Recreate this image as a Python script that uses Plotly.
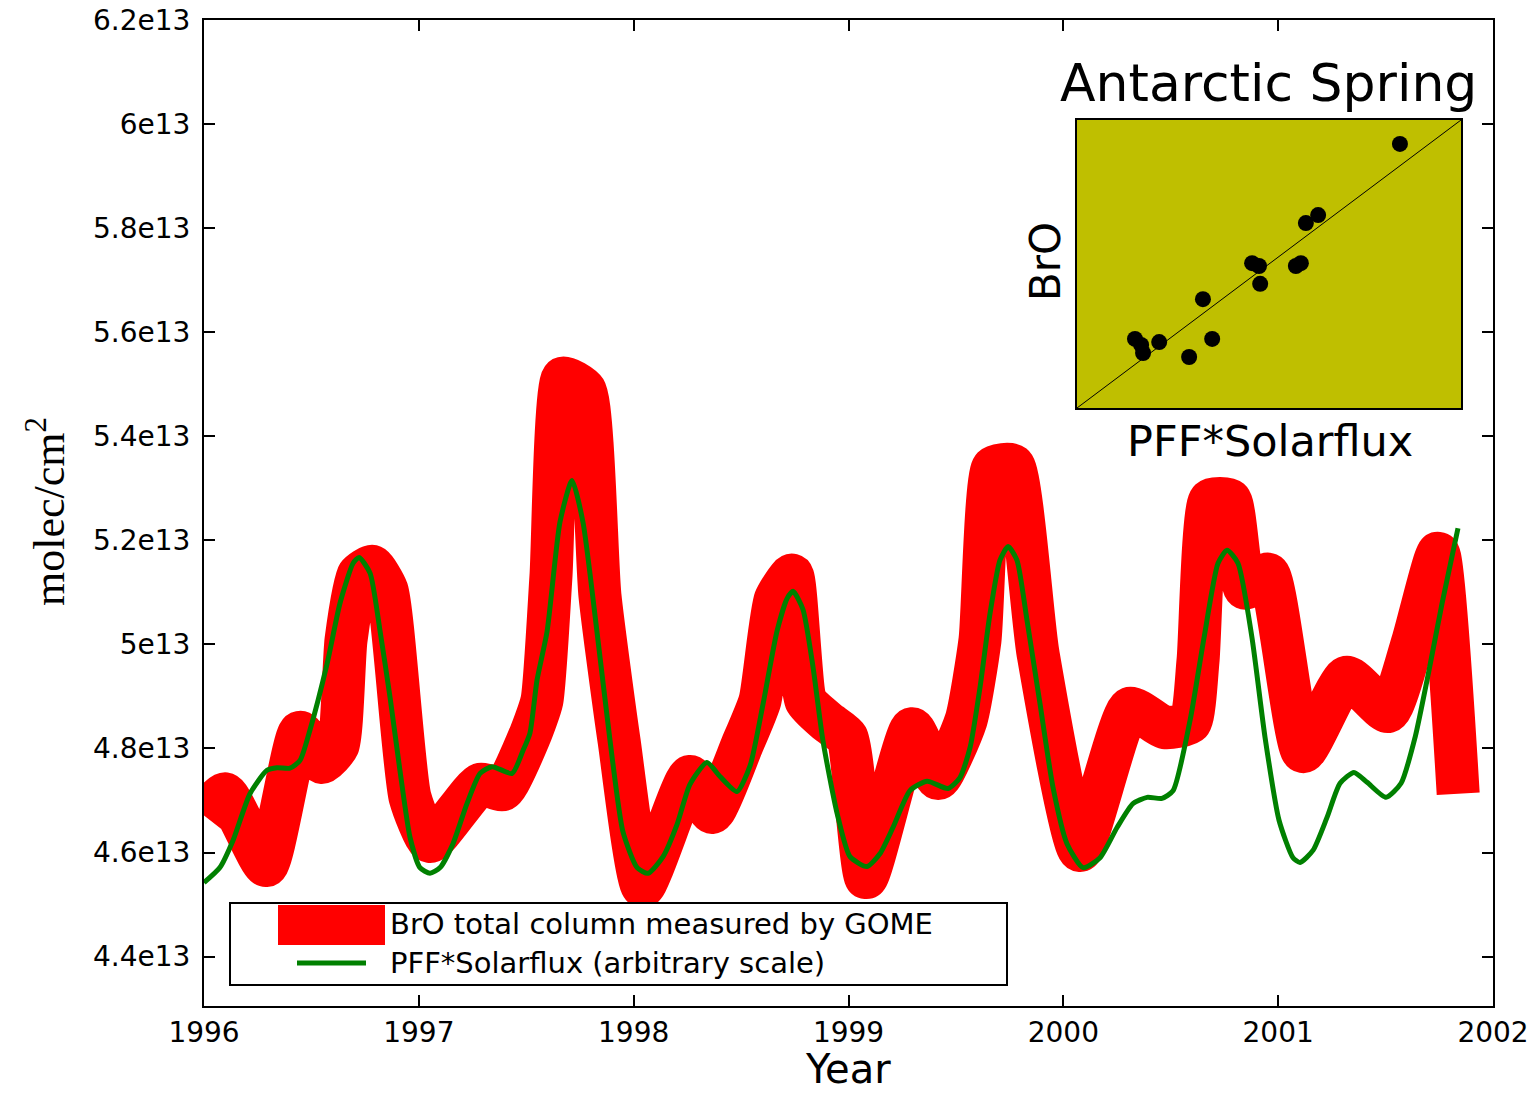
import plotly.graph_objects as go

# ---------------- data ----------------
SCALE = 1e13  # values below are in units of 1e13 molec/cm^2

bro_year = [1996.000, 1996.098, 1996.289, 1996.447, 1996.549, 1996.624, 1996.661, 1996.717,
            1996.782, 1996.852, 1996.959, 1997.052, 1997.285, 1997.392, 1997.517, 1997.573,
            1997.615, 1997.671, 1997.774, 1997.843, 1997.932, 1998.043, 1998.262, 1998.365,
            1998.504, 1998.588, 1998.658, 1998.737, 1998.802, 1998.905, 1998.993, 1999.082,
            1999.296, 1999.417, 1999.547, 1999.612, 1999.673, 1999.766, 1999.882, 2000.078,
            2000.310, 2000.473, 2000.590, 2000.627, 2000.683, 2000.776, 2000.846, 2000.953,
            2001.116, 2001.319, 2001.511, 2001.628, 2001.745, 2001.838]
bro_value = [4.671, 4.713, 4.575, 4.831, 4.773, 4.806, 5.008, 5.133,
             5.150, 5.104, 4.706, 4.621, 4.731, 4.721, 4.825, 4.892,
             5.131, 5.512, 5.488, 5.094, 4.815, 4.535, 4.746, 4.677,
             4.806, 4.892, 5.085, 5.133, 4.892, 4.850, 4.821, 4.552,
             4.838, 4.742, 4.854, 5.008, 5.340, 5.344, 4.983, 4.604,
             4.877, 4.840, 4.850, 4.969, 5.277, 5.277, 5.108, 5.135,
             4.794, 4.937, 4.871, 5.008, 5.175, 4.713]

pff_year = [1996.000, 1996.074, 1996.135, 1996.214, 1996.293, 1996.340, 1996.400, 1996.447,
            1996.493, 1996.573, 1996.633, 1996.694, 1996.722, 1996.773, 1996.819, 1996.866,
            1996.912, 1996.959, 1997.005, 1997.052, 1997.099, 1997.159, 1997.224, 1997.285,
            1997.341, 1997.434, 1997.485, 1997.517, 1997.550, 1997.597, 1997.657, 1997.713,
            1997.764, 1997.829, 1997.890, 1997.950, 1998.016, 1998.067, 1998.137, 1998.202,
            1998.262, 1998.341, 1998.402, 1998.481, 1998.542, 1998.602, 1998.667, 1998.714,
            1998.742, 1998.788, 1998.835, 1998.881, 1998.947, 1999.007, 1999.086, 1999.147,
            1999.207, 1999.286, 1999.366, 1999.463, 1999.519, 1999.566, 1999.612, 1999.659,
            1999.705, 1999.743, 1999.784, 1999.831, 1999.891, 1999.952, 2000.017, 2000.092,
            2000.171, 2000.250, 2000.324, 2000.390, 2000.459, 2000.511, 2000.590, 2000.655,
            2000.720, 2000.762, 2000.813, 2000.878, 2000.939, 2001.004, 2001.069, 2001.102,
            2001.162, 2001.227, 2001.288, 2001.353, 2001.414, 2001.502, 2001.572, 2001.637,
            2001.702, 2001.763, 2001.837]
pff_value = [4.542, 4.571, 4.623, 4.713, 4.758, 4.763, 4.762, 4.777,
             4.835, 4.963, 5.079, 5.156, 5.167, 5.137, 5.027, 4.898,
             4.758, 4.629, 4.571, 4.560, 4.571, 4.617, 4.694, 4.752,
             4.765, 4.752, 4.796, 4.829, 4.931, 5.025, 5.235, 5.315,
             5.235, 5.025, 4.815, 4.640, 4.571, 4.560, 4.592, 4.654,
             4.731, 4.773, 4.746, 4.717, 4.767, 4.885, 5.025, 5.088,
             5.102, 5.067, 4.956, 4.815, 4.675, 4.592, 4.573, 4.598,
             4.648, 4.719, 4.737, 4.723, 4.744, 4.802, 4.917, 5.060,
             5.162, 5.188, 5.162, 5.046, 4.887, 4.725, 4.617, 4.571,
             4.590, 4.648, 4.694, 4.706, 4.704, 4.719, 4.854, 5.013,
             5.156, 5.181, 5.156, 5.013, 4.821, 4.662, 4.590, 4.581,
             4.604, 4.667, 4.733, 4.754, 4.735, 4.706, 4.733, 4.821,
             4.950, 5.079, 5.223]

# inset scatter (normalised, arbitrary units)
inset_pff = [0.841, 0.628, 0.596, 0.456, 0.474, 0.583, 0.570, 0.477,
             0.328, 0.151, 0.167, 0.172, 0.214, 0.352, 0.292]
inset_bro = [0.917, 0.670, 0.642, 0.503, 0.493, 0.503, 0.493, 0.431,
             0.378, 0.240, 0.219, 0.191, 0.229, 0.240, 0.177]
inset_line = [0.0, 1.0]

x_tick_vals = [1996, 1997, 1998, 1999, 2000, 2001, 2002]
x_tick_text = ["1996", "1997", "1998", "1999", "2000", "2001", "2002"]
y_tick_vals = [4.4, 4.6, 4.8, 5.0, 5.2, 5.4, 5.6, 5.8, 6.0, 6.2]
y_tick_text = ["4.4e13", "4.6e13", "4.8e13", "5e13", "5.2e13", "5.4e13",
               "5.6e13", "5.8e13", "6e13", "6.2e13"]

legend_labels = ["BrO total column measured by GOME", "PFF*Solarflux (arbitrary scale)"]

# ---------------- layout geometry (pixels) ----------------
W, H = 1533, 1094
L, R, T, B = 204, 40, 20, 88
PW, PH = W - L - R, H - T - B


def px(xp):
    return (xp - L) / PW


def py(yp):
    return (H - B - yp) / PH


SANS = "DejaVu Sans"
RED = "#ff0000"
GREEN = "#008000"
OLIVE = "#bfbf00"

fig = go.Figure()

fig.add_trace(go.Scatter(
    x=bro_year, y=[v * SCALE for v in bro_value], mode="lines",
    line=dict(color=RED, width=43, shape="spline", smoothing=0.5),
    name=legend_labels[0], showlegend=False, hoverinfo="skip"))
fig.add_trace(go.Scatter(
    x=pff_year, y=[v * SCALE for v in pff_value], mode="lines",
    line=dict(color=GREEN, width=5, shape="spline", smoothing=0.6),
    name=legend_labels[1], showlegend=False, hoverinfo="skip"))

# inset
fig.add_trace(go.Scatter(
    x=inset_line, y=inset_line, xaxis="x2", yaxis="y2", mode="lines",
    line=dict(color="black", width=1), showlegend=False, hoverinfo="skip"))
fig.add_trace(go.Scatter(
    x=inset_pff, y=inset_bro, xaxis="x2", yaxis="y2", mode="markers",
    marker=dict(color="black", size=16, line=dict(width=0)),
    showlegend=False, hoverinfo="skip"))

axis_common = dict(
    showline=True, linewidth=2, linecolor="black", mirror="ticks",
    ticks="inside", ticklen=11, tickwidth=1.5, tickcolor="black",
    showgrid=False, zeroline=False, automargin=False,
    tickfont=dict(family=SANS, size=28, color="black"),
)

shapes = [
    # inset background
    dict(type="rect", xref="x2", yref="y2", x0=0, x1=1, y0=0, y1=1,
         fillcolor=OLIVE, line=dict(width=0), layer="below"),
    # legend frame
    dict(type="rect", xref="paper", yref="paper", x0=px(230), x1=px(1007),
         y0=py(985), y1=py(903), fillcolor="white",
         line=dict(color="black", width=2), layer="above"),
    # legend handles
    dict(type="rect", xref="paper", yref="paper", x0=px(278), x1=px(385),
         y0=py(945), y1=py(905), fillcolor=RED, line=dict(width=0), layer="above"),
    dict(type="line", xref="paper", yref="paper", x0=px(297), x1=px(366),
         y0=py(963), y1=py(963), line=dict(color=GREEN, width=5), layer="above"),
]

annotations = [
    dict(text="Antarctic Spring", x=px(1268), y=py(83), xref="paper", yref="paper",
         xanchor="center", yanchor="middle", showarrow=False,
         font=dict(family=SANS, size=52, color="black")),
    dict(text="BrO", x=px(1046), y=py(262), xref="paper", yref="paper",
         xanchor="center", yanchor="middle", showarrow=False, textangle=-90,
         font=dict(family=SANS, size=42, color="black")),
    dict(text="PFF*Solarflux", x=px(1270), y=py(441), xref="paper", yref="paper",
         xanchor="center", yanchor="middle", showarrow=False,
         font=dict(family=SANS, size=43, color="black")),
    dict(text="Year", x=px(848), y=py(1069), xref="paper", yref="paper",
         xanchor="center", yanchor="middle", showarrow=False,
         font=dict(family=SANS, size=40, color="black")),
    dict(text="molec/cm<sup>2</sup>", x=px(47), y=py(512), xref="paper", yref="paper",
         xanchor="center", yanchor="middle", showarrow=False, textangle=-90,
         font=dict(family="Liberation Serif", size=44, color="black")),
    dict(text=legend_labels[0], x=px(388), y=py(924), xref="paper", yref="paper",
         xanchor="left", yanchor="middle", showarrow=False,
         font=dict(family=SANS, size=29, color="black")),
    dict(text=legend_labels[1], x=px(388), y=py(963), xref="paper", yref="paper",
         xanchor="left", yanchor="middle", showarrow=False,
         font=dict(family=SANS, size=29, color="black")),
]

fig.update_layout(
    width=W, height=H,
    margin=dict(l=L, r=R, t=T, b=B, pad=0, autoexpand=False),
    paper_bgcolor="white", plot_bgcolor="white",
    showlegend=False,
    xaxis=dict(range=[1996, 2002], tickvals=x_tick_vals, ticktext=x_tick_text,
               ticklabelstandoff=0, **axis_common),
    yaxis=dict(range=[4.305 * SCALE, 6.2 * SCALE],
               tickvals=[v * SCALE for v in y_tick_vals], ticktext=y_tick_text,
               ticklabelstandoff=6, **axis_common),
    xaxis2=dict(domain=[px(1077), px(1461)], anchor="y2", range=[0, 1],
                showticklabels=False, ticks="", showline=True, mirror=True,
                linewidth=2, linecolor="black", showgrid=False, zeroline=False,
                automargin=False),
    yaxis2=dict(domain=[py(408), py(120)], anchor="x2", range=[0, 1],
                showticklabels=False, ticks="", showline=True, mirror=True,
                linewidth=2, linecolor="black", showgrid=False, zeroline=False,
                automargin=False),
    shapes=shapes,
    annotations=annotations,
)

post = ("document.body.style.margin='0';document.body.style.overflow='hidden';"
        "var s=document.createElement('style');"
        "s.textContent='.js-line{stroke-linejoin:round !important;}';"
        "document.head.appendChild(s);")

fig.write_html("out.html", config={"displayModeBar": False}, post_script=post)
